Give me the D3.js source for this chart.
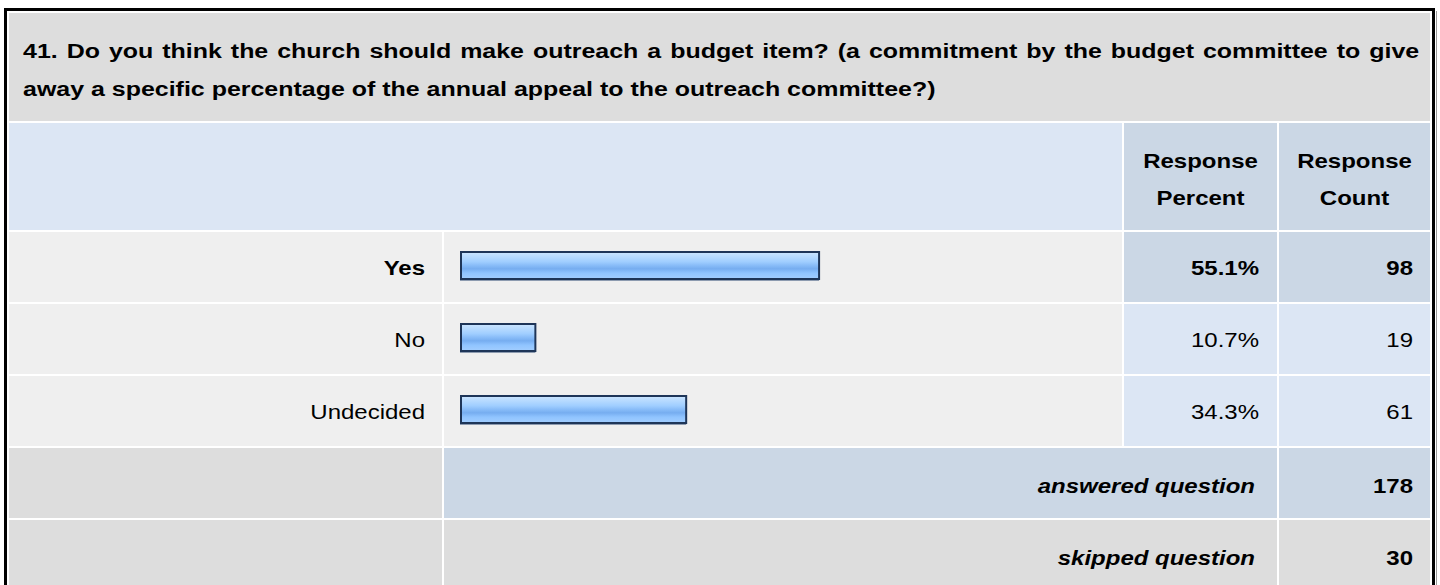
<!DOCTYPE html>
<html>
<head>
<title>Outreach budget item survey</title>
<style>
  body { margin: 0; background: #fff; }
  svg { display: block; }
  text { font-family: "Liberation Sans", Arial, sans-serif; font-size: 20px; fill: #000; }
</style>
</head>
<body>
<div id="chart"></div>
<script src="https://d3js.org/d3.v7.min.js"></script>
<script>

var titleLines = [
  "41. Do you think the church should make outreach a budget item? (a commitment by the budget committee to give",
  "away a specific percentage of the annual appeal to the outreach committee?)"
];
var headerLabels = [["Response", "Percent"], ["Response", "Count"]];
var categories = ["Yes", "No", "Undecided"];
var percents = [55.1, 10.7, 34.3];
var counts = [98, 19, 61];
var summaryLabels = ["answered question", "skipped question"];
var summaryCounts = [178, 30];

var width = 1440;
var height = 585;
var sx = 1.2;   // picture is stretched sideways

// column edges
var colLabel = [9, 442], colBar = [444, 1122], colPct = [1124, 1277], colCount = [1279, 1430];

var svg = d3.select("#chart")
  .append("svg")
    .attr("width", width)
    .attr("height", height);

var defs = svg.append("defs");
var grad = defs.append("linearGradient")
  .attr("id", "barGrad")
  .attr("x1", 0).attr("y1", 0).attr("x2", 0).attr("y2", 1);
[["0%", "#cce5ff"], ["18%", "#b6daff"], ["36%", "#a0ceff"], ["50%", "#88bcf8"],
 ["62%", "#76adf0"], ["78%", "#90c4ff"], ["100%", "#a2ceff"]].forEach(function(s) {
  grad.append("stop").attr("offset", s[0]).attr("stop-color", s[1]);
});

svg.append("rect").attr("width", width).attr("height", height).attr("fill", "#fff");

function label(g, str, x, y, anchor, weight, style) {
  return g.append("text")
    .text(str)
    .attr("transform", "translate(" + x + "," + y + ") scale(" + sx + ",1)")
    .style("text-anchor", anchor)
    .style("font-weight", weight || "normal")
    .style("font-style", style || "normal");
}

function cell(col, y0, y1, fill) {
  svg.append("rect")
    .attr("x", col[0]).attr("y", y0)
    .attr("width", col[1] - col[0]).attr("height", y1 - y0)
    .attr("fill", fill);
}

// title row
cell([colLabel[0], colCount[1]], 13, 121, "#dddddd");
titleLines.forEach(function(t, i) {
  label(svg, t, 23, 58 + i * 38, "start", "bold")
    .style("font-size", "20.8px")
    .style("word-spacing", i === 0 ? "1.7px" : "0px");
});

// header row
cell([colLabel[0], colBar[1]], 123, 230, "#dce6f4");
cell(colPct, 123, 230, "#cbd7e5");
cell(colCount, 123, 230, "#cbd7e5");
[colPct, colCount].forEach(function(col, i) {
  var cx = (col[0] + col[1]) / 2;
  headerLabels[i].forEach(function(t, j) {
    label(svg, t, cx, 168 + j * 37, "middle", "bold");
  });
});

// rows
var rowNames = categories.concat(summaryLabels);
var y = d3.scaleBand()
  .domain(rowNames)
  .range([232, 232 + 72 * rowNames.length - 2])
  .paddingInner(2 / 72)
  .paddingOuter(0);

var x = d3.scaleLinear()
  .domain([0, 100])
  .range([0, 639]);

var maxPct = d3.max(percents);

categories.forEach(function(c, i) {
  var top = y(c), bot = top + y.bandwidth();
  var isMax = percents[i] === maxPct;
  var w = isMax ? "bold" : "normal";
  cell(colLabel, top, bot, "#efefef");
  cell(colBar, top, bot, "#efefef");
  cell(colPct, top, bot, isMax ? "#cbd7e5" : "#dce6f4");
  cell(colCount, top, bot, isMax ? "#cbd7e5" : "#dce6f4");

  label(svg, c, colLabel[1] - 17, top + 43, "end", w);
  label(svg, percents[i].toFixed(1) + "%", colPct[1] - 18, top + 43, "end", w);
  label(svg, counts[i], colCount[1] - 17, top + 43, "end", w);

  // shadow then bar
  svg.append("rect")
    .attr("x", 460).attr("y", top + 20)
    .attr("width", x(percents[i]) + 7).attr("height", 29)
    .attr("fill", "#8d9bb0");
  svg.append("rect")
    .attr("x", 461).attr("y", top + 20)
    .attr("width", x(percents[i]) + 6).attr("height", 27)
    .attr("fill", "url(#barGrad)")
    .attr("stroke", "#1e3558")
    .attr("stroke-width", 2);
});

summaryLabels.forEach(function(s, i) {
  var top = y(s), bot = top + y.bandwidth();
  var blue = i === 0;
  cell(colLabel, top, bot, "#dddddd");
  cell([colBar[0], colPct[1]], top, bot, blue ? "#cbd7e5" : "#dddddd");
  cell(colCount, top, bot, blue ? "#cbd7e5" : "#dddddd");
  label(svg, s, colPct[1] - 22, top + 45, "end", "bold", "italic");
  label(svg, summaryCounts[i], colCount[1] - 17, top + 45, "end", "bold");
});

// outer frame
svg.append("rect")
  .attr("x", 5.5).attr("y", 9.5)
  .attr("width", 1428).attr("height", 700)
  .attr("fill", "none")
  .attr("stroke", "#000")
  .attr("stroke-width", 3);
svg.append("line")
  .attr("x1", 1436.5).attr("y1", 11).attr("x2", 1436.5).attr("y2", height)
  .style("stroke", "#999");

</script>
</body>
</html>
